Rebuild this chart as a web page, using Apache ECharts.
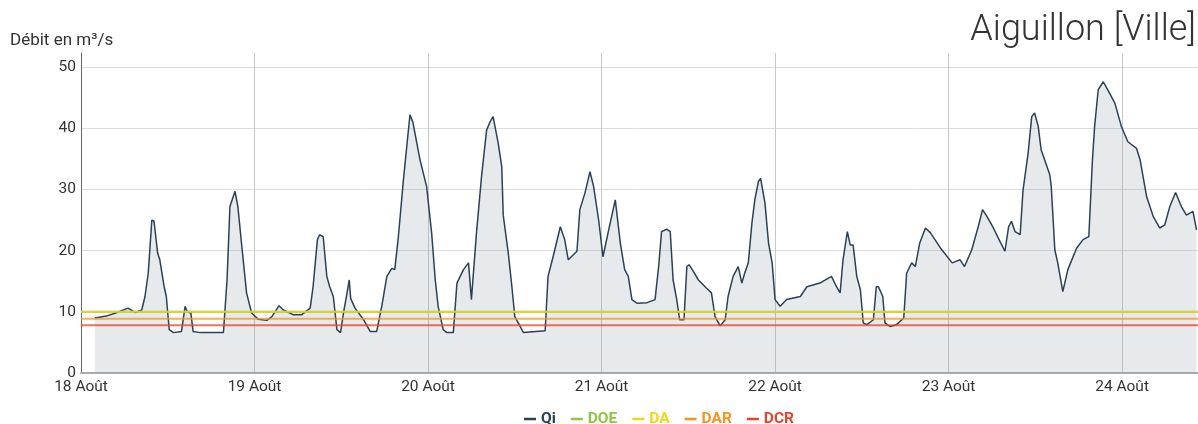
<!DOCTYPE html>
<html>
<head>
<meta charset="utf-8">
<script src="https://cdn.jsdelivr.net/npm/echarts@6/dist/echarts.min.js"></script>
<style>
  html, body { margin: 0; padding: 0; background: #fff; }
  #main { width: 1198px; height: 424px; }
</style>
</head>
<body>
<div id="main"></div>
<script>
// heures depuis le 18 août 00:00
const qiHours = [
    1.9, 3.5, 5.0, 6.5, 7.5, 8.4, 8.85, 9.3, 9.8, 10.1, 10.6, 10.9, 11.5, 11.8, 12.2, 12.8, 13.9,
    14.4, 14.7, 15.2, 15.5, 16.5, 19.7, 20.2, 20.6, 21.3, 21.7, 22.2, 22.9, 23.6, 24.5, 25.7,
    26.4, 27.4, 28.0, 29.4, 30.5, 31.7, 32.1, 32.7, 33.0, 33.5, 34.0, 34.4, 34.9, 35.4, 35.9,
    36.3, 36.8, 37.1, 37.3, 37.9, 39.1, 40.0, 40.9, 41.6, 42.3, 43.0, 43.4, 43.9, 44.6, 45.5,
    45.9, 46.9, 47.8, 48.5, 49.0, 49.4, 50.1, 50.6, 51.5, 52.0, 52.9, 53.6, 54.0, 54.7, 55.4,
    56.1, 56.6, 57.0, 57.7, 58.2, 58.4, 59.1, 59.6, 60.0, 61.2, 64.2, 64.6, 65.3, 66.3, 66.9,
    67.4, 68.6, 69.0, 69.7, 70.4, 70.9, 71.6, 72.2, 72.9, 73.9, 74.6, 75.2, 75.7, 76.2, 76.9,
    78.3, 79.4, 79.9, 80.3, 81.0, 81.5, 81.9, 82.4, 82.8, 83.4, 83.8, 84.1, 84.7, 85.4, 86.5,
    87.2, 87.7, 88.4, 89.1, 89.5, 90.2, 90.9, 91.4, 91.8, 92.3, 92.8, 93.2, 93.7, 94.0, 94.6,
    95.1, 95.6, 96.0, 96.7, 97.6, 99.5, 100.4, 102.2, 103.8, 104.5, 105.0, 105.4, 106.0, 106.4,
    106.8, 107.3, 107.8, 108.2, 108.7, 109.6, 110.0, 110.3, 110.9, 111.2, 111.9, 112.8, 113.8,
    114.2, 114.9, 115.4, 116.0, 116.8, 117.5, 118.9, 120.5, 121.6, 122.2, 123.2, 124.1, 124.7,
    125.3, 126.2, 127.1, 127.8, 128.3, 128.7, 129.2, 129.9, 130.3, 131.0, 131.5, 131.9, 132.4,
    132.8, 134.0, 134.2, 134.7, 135.1, 135.8, 136.5, 137.7, 138.6, 139.4, 139.9, 140.2, 140.7,
    141.4, 142.0, 143.0, 143.9, 144.8, 146.0, 146.5, 147.4, 148.3, 149.2, 149.9, 150.6, 151.4,
    152.2, 152.9, 153.8, 154.3
];
const qiValues = [
    9.0, 9.3, 9.9, 10.6, 9.9, 10.3, 12.5, 16.3, 25.0, 24.8, 19.6, 18.5, 14.1, 12.5, 7.1, 6.6, 6.8,
    10.9, 10.0, 9.8, 6.8, 6.6, 6.6, 15.2, 27.2, 29.7, 27.2, 21.2, 13.1, 9.8, 8.8, 8.6,
    9.2, 11.0, 10.3, 9.5, 9.5, 10.6, 14.1, 21.8, 22.6, 22.3, 15.8, 14.1, 12.5, 7.1, 6.6,
    9.8, 13.1, 15.2, 12.2, 10.6, 8.7, 6.8, 6.8, 10.9, 15.8, 17.1, 16.9, 22.3, 31.6, 42.2,
    41.0, 34.8, 30.5, 22.9, 15.2, 10.9, 7.1, 6.6, 6.6, 14.7, 16.9, 18.0, 12.0, 22.9, 32.1,
    39.7, 41.1, 41.9, 37.6, 33.7, 25.8, 19.6, 14.1, 9.2, 6.6, 6.9, 15.8, 19.0, 23.9, 21.8,
    18.5, 19.9, 26.7, 29.4, 32.9, 30.5, 25.0, 19.0, 22.9, 28.3, 21.2, 16.9, 15.8, 12.0, 11.4,
    11.5, 12.0, 17.4, 23.1, 23.5, 23.1, 15.2, 12.0, 8.7, 8.7, 17.4, 17.7, 16.6, 15.2, 13.9,
    13.1, 9.2, 7.7, 8.7, 12.5, 15.8, 17.4, 14.7, 16.3, 18.0, 24.5, 28.3, 31.3, 31.8, 27.8,
    21.2, 18.0, 12.0, 10.9, 12.0, 12.5, 14.1, 14.7, 15.8, 14.1, 13.1, 18.5, 23.1, 20.9,
    20.9, 15.8, 13.6, 8.2, 7.9, 8.7, 14.1, 14.1, 12.5, 8.2, 7.6, 7.9, 9.0,
    16.3, 18.0, 17.4, 21.2, 23.7, 22.9, 20.4, 18.0, 18.5, 17.4, 20.1, 23.9, 26.7,
    25.6, 23.7, 21.5, 19.9, 23.9, 24.8, 23.1, 22.6, 29.9, 35.9, 41.9, 42.5, 40.3,
    36.5, 32.4, 30.5, 20.1, 18.0, 13.3, 16.9, 20.4, 21.8, 22.3, 34.8, 40.3, 46.3,
    47.6, 46.3, 44.1, 40.3, 37.8, 36.7, 34.8, 28.8, 25.6, 23.7, 24.2, 27.2, 29.5,
    27.2, 25.8, 26.4, 23.4
];

const thresholdNames = ['DOE', 'DA', 'DAR', 'DCR'];
const thresholdValues = [10.0, 10.0, 8.85, 7.8];
const thresholdColors = ['#8dc63f', '#f2d516', '#f7931e', '#e8412c'];

const dayLabels = ['18 Août', '19 Août', '20 Août', '21 Août', '22 Août', '23 Août', '24 Août'];
const xMax = 154.5;

const chart = echarts.init(document.getElementById('main'));

const series = [{
    name: 'Qi',
    type: 'line',
    showSymbol: false,
    data: qiHours.map((h, i) => [h, qiValues[i]]),
    lineStyle: { color: '#2c4156', width: 1.5 },
    itemStyle: { color: '#2c4156' },
    areaStyle: { color: 'rgba(140,155,170,0.3)' },
    z: 2
}];

thresholdNames.forEach((name, i) => {
    series.push({
        name: name,
        type: 'line',
        showSymbol: false,
        data: [[0, thresholdValues[i]], [xMax, thresholdValues[i]]],
        lineStyle: { color: thresholdColors[i], width: 2, opacity: 0.75 },
        itemStyle: { color: thresholdColors[i] },
        z: 3
    });
});

const legendColors = ['#2c4156'].concat(thresholdColors);

chart.setOption({
    animation: false,
    textStyle: { fontFamily: 'Roboto' },
    title: [{
        text: 'Aiguillon [Ville]',
        right: 2,
        top: 13,
        padding: 0,
        textStyle: { fontFamily: 'Roboto', fontWeight: 300, fontSize: 36, color: '#333' }
    }, {
        text: 'Débit en m³/s',
        left: 10,
        top: 32,
        padding: 0,
        textStyle: { fontFamily: 'Roboto', fontWeight: 400, fontSize: 17, color: '#333' }
    }],
    legend: {
        left: 519,
        top: 406,
        icon: 'rect',
        itemWidth: 12,
        itemHeight: 2.5,
        itemGap: 15,
        data: ['Qi'].concat(thresholdNames).map((n, i) => ({
            name: n,
            textStyle: { color: legendColors[i], fontWeight: 'bold', fontSize: 15.5 }
        }))
    },
    grid: { left: 81, right: 0, top: 53, bottom: 51 },
    xAxis: {
        type: 'value',
        min: 0,
        max: xMax,
        interval: 24,
        axisLine: { show: true, lineStyle: { color: '#aaa', width: 2 } },
        axisTick: { show: false },
        axisLabel: {
            fontSize: 15.5,
            color: '#333',
            margin: 6,
            showMaxLabel: false,
            formatter: v => dayLabels[Math.round(v / 24)] || ''
        },
        splitLine: { show: true, showMaxLine: false, lineStyle: { color: '#c8c8c8' } }
    },
    yAxis: {
        type: 'value',
        min: 0,
        max: 52.3,
        interval: 10,
        axisLine: { show: true, lineStyle: { color: '#666', width: 1 } },
        axisTick: { show: false },
        axisLabel: { fontSize: 15.5, color: '#333', margin: 5, showMaxLabel: false },
        splitLine: { show: true, showMaxLine: false, lineStyle: { color: '#dcdcdc' } }
    },
    series: series
});
</script>
</body>
</html>
